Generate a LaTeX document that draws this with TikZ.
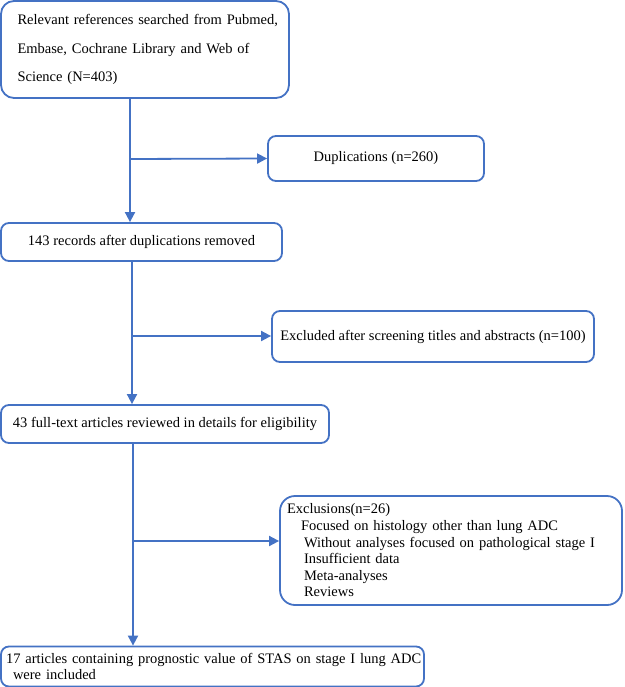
\documentclass[tikz,border=0pt]{standalone}
\usepackage{fontspec}
\setmainfont{Liberation Serif}
\usepackage{xcolor}
\definecolor{flowblue}{HTML}{4472C4}
\usetikzlibrary{arrows.meta}

\begin{document}
\begin{tikzpicture}[x=1pt, y=-1pt,
        box/.style={draw=flowblue, line width=1.8pt, rounded corners=8pt, inner sep=0pt, font=\fontsize{14.5}{16.6}\selectfont},
        arr/.style={draw=flowblue, line width=1.8pt, -{Triangle[length=10pt, width=10pt]}}]
        \useasboundingbox (0,0) rectangle (624,687);

        \node[box, rounded corners=13pt, minimum width=288pt, minimum height=97pt, text width=283pt, align=right,
              font=\fontsize{14.5}{28.5}\selectfont] at (145, 49.5) (search)
              {\makebox[269pt][s]{Relevant references searched from Pubmed,}\\
               \makebox[269pt][s]{Embase, Cochrane Library and Web of}\\
               \makebox[269pt][l]{Science (N=403)}};
        \node[box, minimum width=216pt, minimum height=45pt] at (376, 158.5) (dup) {Duplications (n=260)};
        \node[box, minimum width=281pt, minimum height=38pt] at (141.5, 242) (rec) {143 records after duplications removed};
        \node[box, minimum width=322pt, minimum height=51pt] at (433, 336.5) (screen) {Excluded after screening titles and abstracts (n=100)};
        \node[box, minimum width=328pt, minimum height=38pt] at (165, 424) (full) {43 full-text articles reviewed in details for eligibility};
        \node[box, rounded corners=15pt, minimum width=342pt, minimum height=109pt, text width=328pt, align=left] at (451, 550.5) (excl)
              {Exclusions(n=26)\\
               \hspace*{14pt}Focused on histology other than lung ADC\\
               \hspace*{17pt}Without analyses focused on pathological stage I\\
               \hspace*{17pt}Insufficient data\\
               \hspace*{17pt}Meta-analyses\\
               \hspace*{17pt}Reviews};
        \node[box, minimum width=423pt, minimum height=40pt, text width=413pt, align=left] at (212.5, 666.5) (incl)
              {\mbox{17 articles containing prognostic value of STAS on stage I lung ADC}\\
               \hspace*{7pt}were included};

        \coordinate (b1) at (130, 159);
        \coordinate (b2) at (132, 336);
        \coordinate (b3) at (133, 541);

        \draw[arr] (b1 |- search.south) -- (b1 |- rec.north);
        \draw[arr] (b1) -- (dup.west);
        \draw[arr] (b2 |- rec.south) -- (b2 |- full.north);
        \draw[arr] (b2) -- (b2 -| screen.west);
        \draw[arr] (b3 |- full.south) -- (b3 |- incl.north);
        \draw[arr] (b3) -- (b3 -| excl.west);
\end{tikzpicture}
\end{document}
